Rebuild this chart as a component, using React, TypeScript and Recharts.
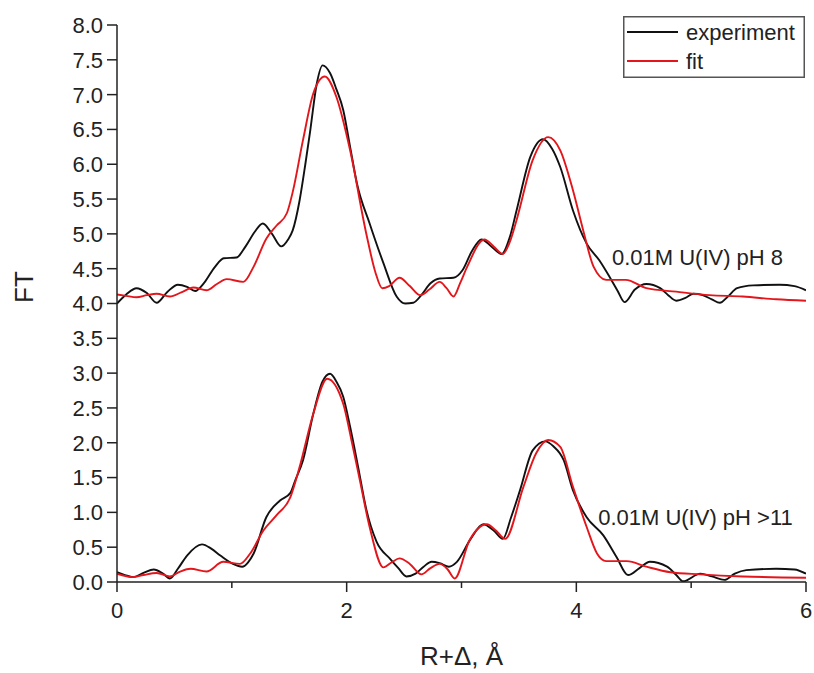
import { LineChart, Line, XAxis, YAxis, ReferenceDot } from 'recharts';

// pH 8 sample (shifted up by 4 in the figure)
const expPh8R = [0, 0.08, 0.17, 0.26, 0.345, 0.44, 0.53, 0.61, 0.68, 0.76, 0.85, 0.93, 1.04, 1.12, 1.2, 1.27, 1.35, 1.43, 1.49, 1.53, 1.59, 1.64, 1.68, 1.74, 1.79, 1.855, 1.91, 1.97, 2.03, 2.09, 2.2, 2.32, 2.435, 2.51, 2.58, 2.65, 2.73, 2.81, 2.93, 3.01, 3.09, 3.175, 3.26, 3.35, 3.42, 3.48, 3.6, 3.71, 3.79, 3.86, 3.97, 4.09, 4.2, 4.29, 4.36, 4.42, 4.51, 4.61, 4.73, 4.8, 4.87, 4.95, 5.02, 5.1, 5.18, 5.25, 5.32, 5.4, 5.54, 5.77, 5.9, 6.0];
const expPh8FT = [4.0, 4.13, 4.22, 4.15, 4.01, 4.17, 4.27, 4.24, 4.18, 4.3, 4.52, 4.65, 4.66, 4.82, 5.03, 5.15, 5.0, 4.82, 4.92, 5.05, 5.48, 6.0, 6.45, 7.16, 7.42, 7.31, 7.08, 6.78, 6.25, 5.72, 5.15, 4.58, 4.1, 4.0, 4.01, 4.12, 4.29, 4.36, 4.37, 4.48, 4.75, 4.92, 4.82, 4.71, 4.95, 5.34, 6.11, 6.36, 6.22, 5.96, 5.34, 4.86, 4.62, 4.38, 4.18, 4.02, 4.2, 4.28, 4.22, 4.12, 4.04, 4.08, 4.14, 4.12, 4.06, 4.01, 4.1, 4.22, 4.26, 4.27, 4.25, 4.19];

const fitPh8R = [0, 0.08, 0.17, 0.26, 0.345, 0.46, 0.56, 0.665, 0.78, 0.87, 0.955, 1.1, 1.19, 1.3, 1.39, 1.48, 1.53, 1.62, 1.71, 1.81, 1.91, 2.03, 2.17, 2.25, 2.31, 2.37, 2.46, 2.55, 2.64, 2.72, 2.81, 2.87, 2.93, 2.99, 3.05, 3.2, 3.28, 3.36, 3.42, 3.48, 3.62, 3.755, 3.86, 3.97, 4.06, 4.15, 4.26, 4.43, 4.61, 4.87, 5.16, 5.45, 5.74, 6.0];
const fitPh8FT = [4.13, 4.11, 4.09, 4.12, 4.14, 4.1, 4.16, 4.23, 4.19, 4.28, 4.35, 4.31, 4.53, 4.93, 5.12, 5.3, 5.6, 6.35, 7.02, 7.26, 6.97, 6.2, 5.01, 4.45, 4.22, 4.25, 4.37, 4.25, 4.12, 4.2, 4.31, 4.22, 4.1, 4.3, 4.53, 4.92, 4.82, 4.71, 4.88, 5.2, 6.06, 6.39, 6.2, 5.63, 5.05, 4.53, 4.34, 4.34, 4.22, 4.17, 4.12, 4.1, 4.06, 4.04];

// pH >11 sample
const expPh11R = [0, 0.07, 0.14, 0.23, 0.32, 0.4, 0.46, 0.53, 0.61, 0.74, 0.82, 0.9, 1.01, 1.09, 1.14, 1.19, 1.3, 1.42, 1.51, 1.55, 1.62, 1.71, 1.79, 1.855, 1.91, 1.97, 2.03, 2.1, 2.17, 2.26, 2.38, 2.45, 2.52, 2.6, 2.67, 2.74, 2.81, 2.89, 2.96, 3.08, 3.19, 3.28, 3.36, 3.43, 3.51, 3.62, 3.73, 3.8, 3.89, 3.97, 4.09, 4.235, 4.35, 4.45, 4.55, 4.64, 4.79, 4.87, 4.93, 5.08, 5.18, 5.29, 5.38, 5.48, 5.74, 5.9, 6.0];
const expPh11FT = [0.14, 0.1, 0.07, 0.13, 0.18, 0.12, 0.05, 0.19, 0.38, 0.54, 0.48, 0.38, 0.26, 0.22, 0.28, 0.41, 0.93, 1.17, 1.28, 1.45, 1.75, 2.42, 2.88, 2.99, 2.88, 2.66, 2.23, 1.65, 1.05, 0.58, 0.33, 0.2, 0.08, 0.12, 0.22, 0.29, 0.27, 0.22, 0.29, 0.62, 0.83, 0.74, 0.62, 0.92, 1.32, 1.89, 2.02, 1.95, 1.75, 1.32, 0.93, 0.67, 0.36, 0.1, 0.2, 0.29, 0.22, 0.1, 0.01, 0.12, 0.08, 0.03, 0.12, 0.17, 0.19, 0.18, 0.12];

const fitPh11R = [0, 0.14, 0.23, 0.345, 0.46, 0.55, 0.64, 0.78, 0.925, 1.07, 1.16, 1.275, 1.39, 1.51, 1.59, 1.71, 1.83, 1.97, 2.04, 2.115, 2.2, 2.32, 2.39, 2.46, 2.55, 2.65, 2.73, 2.81, 2.88, 2.94, 3.07, 3.22, 3.3, 3.38, 3.54, 3.65, 3.755, 3.86, 3.97, 4.09, 4.18, 4.26, 4.44, 4.61, 4.82, 5.08, 5.45, 6.0];
const fitPh11FT = [0.12, 0.07, 0.1, 0.13, 0.08, 0.15, 0.19, 0.15, 0.29, 0.26, 0.41, 0.74, 0.96, 1.22, 1.65, 2.42, 2.92, 2.56, 2.05, 1.46, 0.79, 0.21, 0.28, 0.34, 0.26, 0.11, 0.2, 0.26, 0.18, 0.05, 0.6, 0.83, 0.74, 0.62, 1.37, 1.85, 2.04, 1.94, 1.37, 0.79, 0.41, 0.3, 0.3, 0.22, 0.14, 0.11, 0.08, 0.06];

const xTicks = [0, 1, 2, 3, 4, 5, 6];
const xLabelled = [0, 2, 4, 6];
const yMajor = [0, 0.5, 1, 1.5, 2, 2.5, 3, 3.5, 4, 4.5, 5, 5.5, 6, 6.5, 7, 7.5, 8];
const yTicks = yMajor.flatMap((v) => (v < 8 ? [v, v + 0.25] : [v]));

const labelPh8 = { r: 4.31, ft: 4.67, text: '0.01M U(IV) pH 8' };
const labelPh11 = { r: 4.19, ft: 0.93, text: '0.01M U(IV) pH >11' };

const BLACK = '#111111';
const RED = '#e3161c';
const INK = '#222222';
const FONT = '"Liberation Sans", Arial, sans-serif';

const toPoints = (r: number[], ft: number[]) => r.map((x, i) => ({ r: x, ft: ft[i] }));

const YTick = (props: any) => {
  const { x, y, payload } = props;
  const major = yMajor.includes(payload.value);
  return (
    <g>
      <line x1={x - (major ? 10 : 6)} x2={x} y1={y} y2={y} stroke={INK} strokeWidth={1.5} />
      {major && (
        <text x={x - 14} y={y} dy="0.36em" textAnchor="end" fontSize={22} fill={INK} fontFamily={FONT}>
          {payload.value.toFixed(1)}
        </text>
      )}
    </g>
  );
};

const XTick = (props: any) => {
  const { x, y, payload } = props;
  const major = xLabelled.includes(payload.value);
  return (
    <g>
      <line x1={x} x2={x} y1={y} y2={y + (major ? 10 : 6)} stroke={INK} strokeWidth={1.5} />
      {major && (
        <text x={x} y={y + 36} textAnchor="middle" fontSize={22} fill={INK} fontFamily={FONT}>
          {payload.value}
        </text>
      )}
    </g>
  );
};

const LegendBox = () => (
  <svg width={182} height={62} style={{ position: 'absolute', left: 623, top: 16 }}>
    <rect x={0.75} y={0.75} width={180.5} height={60.5} fill="#fff" stroke="#555" strokeWidth={1.5} />
    <line x1={4} x2={55} y1={16} y2={16} stroke={BLACK} strokeWidth={1.9} />
    <text x={63} y={16} dy="0.36em" fontSize={22} fill={INK} fontFamily={FONT}>experiment</text>
    <line x1={4} x2={55} y1={45} y2={45} stroke={RED} strokeWidth={1.9} />
    <text x={63} y={45} dy="0.36em" fontSize={22} fill={INK} fontFamily={FONT}>fit</text>
  </svg>
);

export default function App() {
  return (
    <div style={{ position: 'absolute', left: 0, top: 0, width: 814, height: 673, background: '#fff', fontFamily: FONT }}>
      <LineChart width={814} height={673} margin={{ top: 25, right: 8, left: 0, bottom: 0 }}>
        <XAxis
          dataKey="r"
          type="number"
          domain={[0, 6]}
          ticks={xTicks}
          allowDataOverflow
          height={91}
          tickSize={0}
          tickMargin={0}
          tickLine={false}
          tick={<XTick />}
          axisLine={{ stroke: INK, strokeWidth: 1.5 }}
          label={{
            content: (p: any) => (
              <text
                x={p.viewBox.x + p.viewBox.width / 2}
                y={p.viewBox.y + 83}
                textAnchor="middle"
                fontSize={26}
                fill={INK}
                fontFamily={FONT}
              >
                R+Δ, Å
              </text>
            ),
          }}
        />
        <YAxis
          type="number"
          domain={[0, 8]}
          ticks={yTicks}
          allowDataOverflow
          width={117}
          tickSize={0}
          tickMargin={0}
          tickLine={false}
          tick={<YTick />}
          axisLine={{ stroke: INK, strokeWidth: 1.5 }}
          label={{
            content: () => (
              <text x={33} y={287} transform="rotate(-90, 33, 287)" textAnchor="middle" fontSize={26} fill={INK} fontFamily={FONT}>
                FT
              </text>
            ),
          }}
        />
        <Line data={toPoints(expPh8R, expPh8FT)} dataKey="ft" name="experiment" type="monotone" stroke={BLACK} strokeWidth={1.9} dot={false} isAnimationActive={false} />
        <Line data={toPoints(fitPh8R, fitPh8FT)} dataKey="ft" name="fit" type="monotone" stroke={RED} strokeWidth={1.9} dot={false} isAnimationActive={false} />
        <Line data={toPoints(expPh11R, expPh11FT)} dataKey="ft" name="experiment pH>11" type="monotone" stroke={BLACK} strokeWidth={1.9} dot={false} isAnimationActive={false} />
        <Line data={toPoints(fitPh11R, fitPh11FT)} dataKey="ft" name="fit pH>11" type="monotone" stroke={RED} strokeWidth={1.9} dot={false} isAnimationActive={false} />
        <ReferenceDot x={labelPh8.r} y={labelPh8.ft} r={0} fill="none" stroke="none" label={{ value: labelPh8.text, position: 'right', offset: 0, fontSize: 22, fill: INK, fontFamily: FONT }} />
        <ReferenceDot x={labelPh11.r} y={labelPh11.ft} r={0} fill="none" stroke="none" label={{ value: labelPh11.text, position: 'right', offset: 0, fontSize: 22, fill: INK, fontFamily: FONT }} />
      </LineChart>
      <LegendBox />
    </div>
  );
}
